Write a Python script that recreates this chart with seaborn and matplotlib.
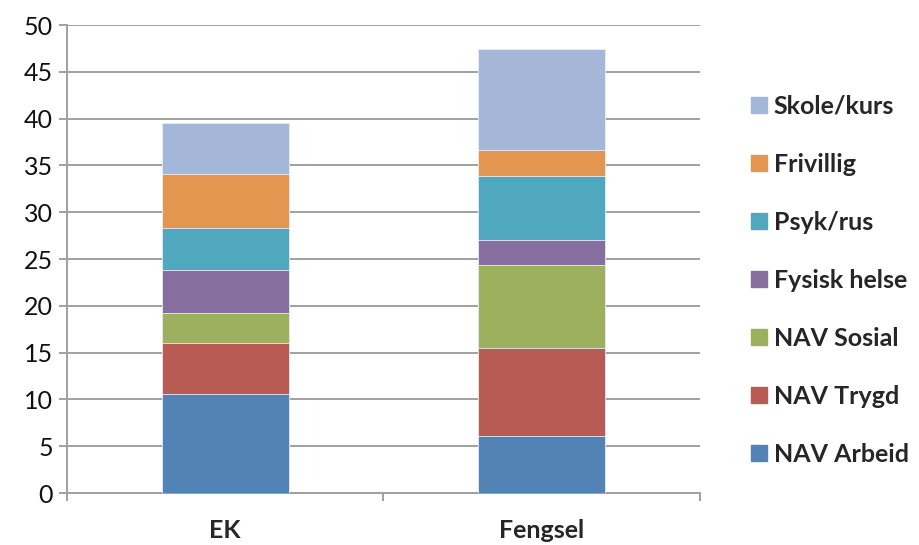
import matplotlib
matplotlib.use('Agg')
import matplotlib.pyplot as plt
import matplotlib.patches as mpatches
import seaborn as sns
import numpy as np

# data
groups = ['EK', 'Fengsel']
series = ['NAV Arbeid', 'NAV Trygd', 'NAV Sosial', 'Fysisk helse', 'Psyk/rus', 'Frivillig', 'Skole/kurs']
nav_arbeid = [10.6, 6.05]
nav_trygd = [5.4, 9.45]
nav_sosial = [3.2, 8.9]
fysisk_helse = [4.6, 2.6]
psyk_rus = [4.5, 6.9]
frivillig = [5.75, 2.7]
skole_kurs = [5.45, 10.8]
colors = ['#5383b5', '#b95b55', '#9cb05e', '#866e9e', '#50a8bf', '#e3964f', '#a4b7d8']

values = [nav_arbeid, nav_trygd, nav_sosial, fysisk_helse, psyk_rus, frivillig, skole_kurs]

sns.set_style('white')
plt.rcParams['font.family'] = ['Lato', 'DejaVu Sans']

fig = plt.figure(figsize=(9.2, 5.45), dpi=100)
ax = fig.add_axes([0.0728, 0.0954, 0.6880, 0.8587])

# stacked bars: draw cumulative totals from the top down so lower segments cover higher ones
cum = np.cumsum(np.array(values), axis=0)
for i in range(len(series) - 1, -1, -1):
    sns.barplot(x=groups, y=cum[i], color=colors[i], saturation=1, width=0.4,
                edgecolor='#e8eef6', linewidth=0.6, ax=ax, zorder=3)

ax.set_ylim(0, 50)
ax.set_xlim(-0.5, 1.5)
ax.set_yticks(range(0, 51, 5))
ax.yaxis.grid(True, color='#a0a0a0', linewidth=1.4, zorder=0)
ax.set_axisbelow(True)
for s in ['top', 'right']:
    ax.spines[s].set_visible(False)
for s in ['left', 'bottom']:
    ax.spines[s].set_color('#a0a0a0')
    ax.spines[s].set_linewidth(1.4)

ax.tick_params(axis='y', length=6, width=1.4, color='#a0a0a0', labelsize=18, pad=4, left=True,
               labelcolor='#111111')
ax.set_xticks([0, 1])
ax.set_xticklabels(groups, fontsize=18, fontweight='bold')
ax.set_xticks([-0.5, 0.5, 1.5], minor=True)
ax.tick_params(axis='x', which='major', length=0, pad=19)
ax.tick_params(axis='x', which='minor', length=6, width=1.4, color='#a0a0a0', bottom=True)
ax.set_xlabel('')
ax.set_ylabel('')

handles = [mpatches.Patch(color=colors[i], label=series[i]) for i in range(len(series) - 1, -1, -1)]
leg = fig.legend(handles=handles, loc='center left', bbox_to_anchor=(0.816, 0.486),
                 frameon=False, borderpad=0, borderaxespad=0,
                 handlelength=0.65, handleheight=0.65, handletextpad=0.28,
                 labelspacing=1.4, prop={'size': 18, 'weight': 'bold'})

fig.savefig('out.png', dpi=100)
